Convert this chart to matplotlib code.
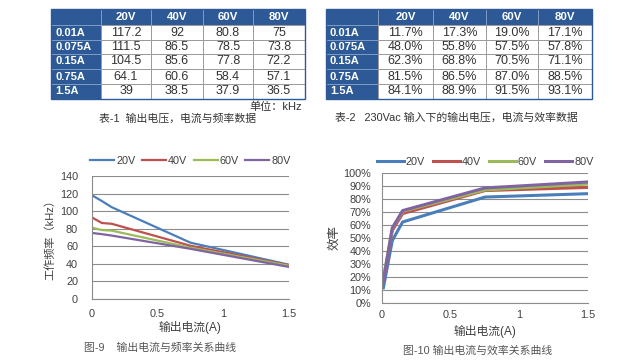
import numpy as np
import matplotlib
matplotlib.use('Agg')
import matplotlib.pyplot as plt
from matplotlib.patches import Rectangle
from matplotlib.ticker import PercentFormatter

plt.rcParams['font.family'] = ['Liberation Sans', 'Noto Sans CJK SC', 'DejaVu Sans']

# data (from the two tables)
currents = [0.01, 0.075, 0.15, 0.75, 1.5]
row_labels = ['0.01A', '0.075A', '0.15A', '0.75A', '1.5A']
voltages = ['20V', '40V', '60V', '80V']

freq_20v = [117.2, 111.5, 104.5, 64.1, 39]
freq_40v = [92, 86.5, 85.6, 60.6, 38.5]
freq_60v = [80.8, 78.5, 77.8, 58.4, 37.9]
freq_80v = [75, 73.8, 72.2, 57.1, 36.5]

eff_20v = [11.7, 48.0, 62.3, 81.5, 84.1]
eff_40v = [17.3, 55.8, 68.8, 86.5, 88.9]
eff_60v = [19.0, 57.5, 70.5, 87.0, 91.5]
eff_80v = [17.1, 57.8, 71.1, 88.5, 93.1]

freq_series = [freq_20v, freq_40v, freq_60v, freq_80v]
eff_series = [eff_20v, eff_40v, eff_60v, eff_80v]
freq_text = [['117.2', '92', '80.8', '75'],
             ['111.5', '86.5', '78.5', '73.8'],
             ['104.5', '85.6', '77.8', '72.2'],
             ['64.1', '60.6', '58.4', '57.1'],
             ['39', '38.5', '37.9', '36.5']]
eff_text = [['%.1f%%' % s[i] for s in eff_series] for i in range(len(currents))]

colors = ['#4a7ebb', '#c0504d', '#9bbb59', '#8064a2']
head_blue = '#2d5a96'
txt_gray = '#404040'

fig = plt.figure(figsize=(6.4, 3.6), dpi=100)
fig.patch.set_facecolor('white')

# overlay in pixel coords for tables and captions
bg = fig.add_axes([0, 0, 1, 1])
bg.set_xlim(0, 640)
bg.set_ylim(360, 0)
bg.axis('off')


def draw_table(xe, ye, cells):
    nrow = len(ye) - 1
    ncol = len(xe) - 1
    for r in range(nrow):
        for c in range(ncol):
            x0, x1 = xe[c], xe[c + 1]
            y0, y1 = ye[r], ye[r + 1]
            head = (r == 0 or c == 0)
            bg.add_patch(Rectangle((x0, y0), x1 - x0, y1 - y0,
                                   facecolor=head_blue if head else 'white',
                                   edgecolor='#7f9cc4' if head else '#9a9a9a',
                                   lw=0.7))
            yc = (y0 + y1) / 2
            if r == 0 and c > 0:
                bg.text((x0 + x1) / 2, yc, voltages[c - 1], ha='center', va='center',
                        color='white', fontsize=8.2, fontweight='bold')
            elif c == 0 and r > 0:
                bg.text(x0 + 4, yc, row_labels[r - 1], ha='left', va='center',
                        color='white', fontsize=8, fontweight='bold')
            elif r > 0:
                bg.text((x0 + x1) / 2, yc, cells[r - 1][c - 1], ha='center',
                        va='center', color='#333333', fontsize=9)
    # outer border
    bg.add_patch(Rectangle((xe[0], ye[0]), xe[-1] - xe[0], ye[-1] - ye[0],
                           facecolor='none', edgecolor=head_blue, lw=1.0))


row_edges = [9, 25, 40, 54, 69, 84, 99]
draw_table([51, 101, 151, 203, 253, 305], row_edges, freq_text)
draw_table([326, 378, 433, 486, 538, 592], row_edges, eff_text)

bg.text(302, 107, '单位：kHz', ha='right', va='center', fontsize=8, color='#333333')
bg.text(178, 119, '表-1  输出电压，电流与频率数据', ha='center', va='center',
        fontsize=7.8, color='#333333')
bg.text(335, 118, '表-2   230Vac 输入下的输出电压，电流与效率数据', ha='left',
        va='center', fontsize=7.8, color='#333333')

bg.text(160, 348, '图-9    输出电流与频率关系曲线', ha='center', va='center',
        fontsize=7.8, color='#555555')
bg.text(478, 351, '图-10 输出电流与效率关系曲线', ha='center', va='center',
        fontsize=7.8, color='#555555')

bg.text(190, 328, '输出电流(A)', ha='center', va='center', fontsize=8.5, color=txt_gray)
bg.text(485, 331, '输出电流(A)', ha='center', va='center', fontsize=8.5, color=txt_gray)
bg.text(50, 237, '工作频率（kHz）', ha='center', va='center', rotation=90,
        fontsize=8, color=txt_gray)
bg.text(334, 238, '效率', ha='center', va='center', rotation=90,
        fontsize=9, color=txt_gray)


def style_axes(ax, ypad, xpad):
    ax.set_facecolor('white')
    ax.yaxis.grid(True, color='#8c8c8c', lw=0.8)
    ax.set_axisbelow(True)
    for s in ['top', 'right']:
        ax.spines[s].set_visible(False)
    for s in ['left', 'bottom']:
        ax.spines[s].set_color('#8c8c8c')
        ax.spines[s].set_linewidth(0.8)
    ax.tick_params(axis='y', length=0, pad=ypad, labelsize=7.8, colors=txt_gray)
    ax.tick_params(axis='x', length=0, pad=xpad, labelsize=7.8, colors=txt_gray)
    ax.set_xlim(0, 1.5)
    ax.set_xticks([0, 0.5, 1, 1.5])
    ax.set_xticklabels(['0', '0.5', '1', '1.5'])


# frequency chart
ax1 = fig.add_axes([92 / 640, 1 - 299 / 360, 197 / 640, 123 / 360])
for vals, col, lab in zip(freq_series, colors, voltages):
    ax1.plot(currents, vals, color=col, lw=1.6, label=lab)
ax1.set_ylim(0, 140)
ax1.set_yticks(range(0, 141, 20))
style_axes(ax1, 10, 7)
ax1.legend(loc='center', bbox_to_anchor=(0.5, 1.12), ncol=4, frameon=False,
           fontsize=7.8, handlelength=2.2, handletextpad=0.2, columnspacing=0.6,
           labelcolor=txt_gray, borderaxespad=0)

# efficiency chart
ax2 = fig.add_axes([382 / 640, 1 - 303 / 360, 206 / 640, 130 / 360])
for vals, col, lab in zip(eff_series, colors, voltages):
    ax2.plot(currents, vals, color=col, lw=2.2, label=lab)
ax2.set_ylim(0, 100)
ax2.set_yticks(range(0, 101, 10))
ax2.yaxis.set_major_formatter(PercentFormatter(decimals=0))
style_axes(ax2, 8, 5)
ax2.legend(loc='center', bbox_to_anchor=(0.5, 1.085), ncol=4, frameon=False,
           fontsize=7.8, handlelength=2.5, handletextpad=0.2, columnspacing=0.7,
           labelcolor=txt_gray, borderaxespad=0)

fig.savefig('out.png', dpi=100, facecolor='white')
